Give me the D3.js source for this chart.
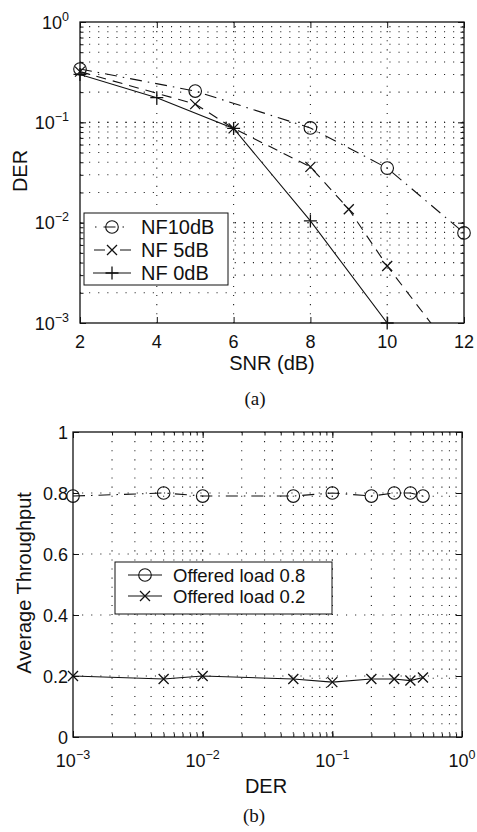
<!DOCTYPE html>
<html><head><meta charset="utf-8">
<script src="https://cdn.jsdelivr.net/npm/d3@7"></script>
<style>
html,body{margin:0;padding:0;background:#fff;}
svg text{font-family:"Liberation Sans",Arial,Helvetica,sans-serif;fill:#111;}
</style></head><body>
<svg id="c" width="477" height="832"></svg>
<script>
// ---- Panel (a) data ----
const snrTicks = [2, 4, 6, 8, 10, 12];
const derTicksTop = [1e-3, 1e-2, 1e-1, 1];
const snrNF10 = [2, 5, 8, 10, 12];
const derNF10 = [0.34, 0.205, 0.088, 0.035, 0.0079];
const snrNF5 = [2, 5, 6, 8, 9, 10, 12];
const derNF5 = [0.32, 0.152, 0.087, 0.036, 0.0136, 0.0037, 0.00037];
const snrNF0 = [2, 4, 6, 8, 10];
const derNF0 = [0.30, 0.176, 0.087, 0.0104, 0.001];
const legendTop = ["NF10dB", "NF 5dB", "NF 0dB"];
// ---- Panel (b) data ----
const derB = [0.001, 0.005, 0.01, 0.05, 0.1, 0.2, 0.3, 0.4, 0.5];
const tp08 = [0.79, 0.80, 0.79, 0.79, 0.80, 0.79, 0.80, 0.80, 0.79];
const tp02 = [0.20, 0.19, 0.20, 0.19, 0.18, 0.19, 0.19, 0.185, 0.195];
const tpTicks = [0, 0.2, 0.4, 0.6, 0.8, 1];
const derTicksB = [1e-3, 1e-2, 1e-1, 1];
const legendBot = ["Offered load 0.8", "Offered load 0.2"];

const svg = d3.select("#c");
const INK = "#111";
const DASHDOT = "12,6,1.5,6";
const DASHED = "10,7";

function minorLog(lo, hi) {
  const out = [];
  for (let e = Math.round(Math.log10(lo)); e < Math.round(Math.log10(hi)); e++)
    for (let k = 1; k < 10; k++) { const v = +(k * Math.pow(10, e)).toPrecision(6); if (v > lo * 1.0001 && v < hi * 0.9999) out.push(v); }
  return out;
}
function expStr(v) { const e = Math.round(Math.log10(v)); return e === 0 ? "0" : "\u2212" + (-e); }
function supLabel(g, x0, y0, v, anchor) {
  const t = g.append("text").attr("x", x0).attr("y", y0).attr("text-anchor", anchor).attr("font-size", 18);
  t.append("tspan").text("10");
  t.append("tspan").attr("dy", -8).attr("font-size", 12.5).text(expStr(v));
}
function gridStyle(sel) {
  sel.attr("stroke", "#222").attr("stroke-width", 1.1).attr("stroke-dasharray", "1.1,8").attr("fill", "none");
}
function drawMarker(g, type, cx, cy) {
  if (type === "o") {
    g.append("circle").attr("cx", cx).attr("cy", cy).attr("r", 6.3).attr("fill", "none").attr("stroke", INK).attr("stroke-width", 1.1);
  } else if (type === "x") {
    const s = 5;
    g.append("path").attr("d", `M${cx - s},${cy - s}L${cx + s},${cy + s}M${cx - s},${cy + s}L${cx + s},${cy - s}`).attr("stroke", INK).attr("stroke-width", 1.3);
  } else {
    const s = 6.5;
    g.append("path").attr("d", `M${cx - s},${cy}L${cx + s},${cy}M${cx},${cy - s}L${cx},${cy + s}`).attr("stroke", INK).attr("stroke-width", 1.3);
  }
}
function ticksAll(g, P, xs, ys, xVals, yVals, xMinor, yMinor) {
  const clean = s => s.call(a => a.select(".domain").remove()).selectAll("line").attr("stroke", INK).attr("stroke-width", 1);
  g.append("g").attr("transform", `translate(0,${P.b})`).call(d3.axisBottom(xs).tickValues(xVals).tickSize(-6).tickFormat("")).call(clean);
  g.append("g").attr("transform", `translate(0,${P.t})`).call(d3.axisTop(xs).tickValues(xVals).tickSize(-6).tickFormat("")).call(clean);
  g.append("g").attr("transform", `translate(${P.l},0)`).call(d3.axisLeft(ys).tickValues(yVals).tickSize(-6).tickFormat("")).call(clean);
  g.append("g").attr("transform", `translate(${P.r},0)`).call(d3.axisRight(ys).tickValues(yVals).tickSize(-6).tickFormat("")).call(clean);
  if (xMinor) {
    g.append("g").attr("transform", `translate(0,${P.b})`).call(d3.axisBottom(xs).tickValues(xMinor).tickSize(-3.5).tickFormat("")).call(clean);
    g.append("g").attr("transform", `translate(0,${P.t})`).call(d3.axisTop(xs).tickValues(xMinor).tickSize(-3.5).tickFormat("")).call(clean);
  }
  if (yMinor) {
    g.append("g").attr("transform", `translate(${P.l},0)`).call(d3.axisLeft(ys).tickValues(yMinor).tickSize(-3.5).tickFormat("")).call(clean);
    g.append("g").attr("transform", `translate(${P.r},0)`).call(d3.axisRight(ys).tickValues(yMinor).tickSize(-3.5).tickFormat("")).call(clean);
  }
  g.append("rect").attr("x", P.l).attr("y", P.t).attr("width", P.r - P.l).attr("height", P.b - P.t)
    .attr("fill", "none").attr("stroke", INK).attr("stroke-width", 1.3);
}
const defs = svg.append("defs");

// ================= Panel (a) =================
{
  const P = { l: 80, r: 464, t: 22, b: 323 };
  const x = d3.scaleLinear().domain([2, 12]).range([P.l, P.r]);
  const y = d3.scaleLog().domain([1e-3, 1]).range([P.b, P.t]);
  const g = svg.append("g");
  defs.append("clipPath").attr("id", "clipA").append("rect").attr("x", P.l).attr("y", P.t).attr("width", P.r - P.l).attr("height", P.b - P.t);

  const yMinor = minorLog(1e-3, 1);
  const yGrid = yMinor.concat(derTicksTop.filter(v => v > 1e-3 && v < 1));
  g.append("g").selectAll("line").data(yGrid).join("line")
    .attr("x1", P.l).attr("x2", P.r).attr("y1", d => y(d)).attr("y2", d => y(d)).call(gridStyle);
  g.append("g").selectAll("line").data(snrTicks.slice(1, -1)).join("line")
    .attr("y1", P.t).attr("y2", P.b).attr("x1", d => x(d)).attr("x2", d => x(d)).call(gridStyle);

  const line = d3.line().x(d => x(d[0])).y(d => y(d[1]));
  const series = [
    { xs: snrNF10, ys: derNF10, dash: DASHDOT, m: "o" },
    { xs: snrNF5, ys: derNF5, dash: DASHED, m: "x" },
    { xs: snrNF0, ys: derNF0, dash: null, m: "+" }
  ];
  const lg = g.append("g").attr("clip-path", "url(#clipA)");
  series.forEach(s => {
    const pts = s.xs.map((v, i) => [v, s.ys[i]]);
    lg.append("path").attr("d", line(pts)).attr("fill", "none").attr("stroke", INK).attr("stroke-width", 1.1)
      .attr("stroke-dasharray", s.dash);
  });
  series.forEach(s => {
    s.xs.forEach((v, i) => { if (s.ys[i] >= 1e-3) drawMarker(g, s.m, x(v), y(s.ys[i])); });
  });

  ticksAll(g, P, x, y, snrTicks, derTicksTop, null, yMinor);

  snrTicks.forEach(v => g.append("text").attr("x", x(v)).attr("y", 348).attr("text-anchor", "middle").attr("font-size", 18).text(v));
  derTicksTop.forEach(v => supLabel(g, 69, y(v) + 6.5, v, "end"));

  g.append("text").attr("transform", "translate(27,171) rotate(-90)").attr("text-anchor", "middle").attr("font-size", 20).text("DER");
  g.append("text").attr("x", 272).attr("y", 370).attr("text-anchor", "middle").attr("font-size", 20).text("SNR (dB)");
  g.append("text").attr("x", 255).attr("y", 405).attr("text-anchor", "middle").attr("font-size", 19)
    .style("font-family", "'Liberation Serif','Times New Roman',serif").text("(a)");

  // legend
  const L = g.append("g");
  L.append("rect").attr("x", 84).attr("y", 213).attr("width", 144).attr("height", 72).attr("fill", "#fff").attr("stroke", INK).attr("stroke-width", 1);
  const rowsY = [227, 250, 273];
  const samples = [
    { x1: 95, x2: 128, dash: "1.5,7,12,7" },
    { x1: 94, x2: 131, dash: "11,15" },
    { x1: 93, x2: 131, dash: null }
  ];
  legendTop.forEach((name, i) => {
    const cy = rowsY[i];
    L.append("line").attr("x1", samples[i].x1).attr("x2", samples[i].x2).attr("y1", cy).attr("y2", cy)
      .attr("stroke", INK).attr("stroke-width", 1.1).attr("stroke-dasharray", samples[i].dash);
    drawMarker(L, series[i].m, 112, cy);
    L.append("text").attr("x", 141).attr("y", cy + 7).attr("font-size", 20).text(name);
  });
}

// ================= Panel (b) =================
{
  const P = { l: 73, r: 462, t: 432, b: 737 };
  const x = d3.scaleLog().domain([1e-3, 1]).range([P.l, P.r]);
  const y = d3.scaleLinear().domain([0, 1]).range([P.b, P.t]);
  const g = svg.append("g");
  defs.append("clipPath").attr("id", "clipB").append("rect").attr("x", P.l).attr("y", P.t).attr("width", P.r - P.l).attr("height", P.b - P.t);

  const xMinor = minorLog(1e-3, 1);
  const xGrid = xMinor.concat(derTicksB.filter(v => v > 1e-3 && v < 1));
  g.append("g").selectAll("line").data(xGrid).join("line")
    .attr("y1", P.t).attr("y2", P.b).attr("x1", d => x(d)).attr("x2", d => x(d)).call(gridStyle);
  g.append("g").selectAll("line").data(tpTicks.slice(1, -1)).join("line")
    .attr("x1", P.l).attr("x2", P.r).attr("y1", d => y(d)).attr("y2", d => y(d)).call(gridStyle);

  const line = d3.line().x(d => x(d[0])).y(d => y(d[1]));
  const series = [
    { ys: tp08, dash: DASHDOT, m: "o" },
    { ys: tp02, dash: null, m: "x" }
  ];
  const lg = g.append("g").attr("clip-path", "url(#clipB)");
  series.forEach(s => {
    const pts = derB.map((v, i) => [v, s.ys[i]]);
    lg.append("path").attr("d", line(pts)).attr("fill", "none").attr("stroke", INK).attr("stroke-width", 1.1)
      .attr("stroke-dasharray", s.dash);
    derB.forEach((v, i) => drawMarker(g, s.m, x(v), y(s.ys[i])));
  });

  ticksAll(g, P, x, y, derTicksB, tpTicks, xMinor, null);

  derTicksB.forEach(v => supLabel(g, x(v), 767, v, "middle"));
  tpTicks.forEach(v => g.append("text").attr("x", 68).attr("y", y(v) + 6.5).attr("text-anchor", "end").attr("font-size", 18)
    .text(v === 0 || v === 1 ? d3.format("d")(v) : d3.format(".1f")(v)));

  g.append("text").attr("transform", "translate(31,583) rotate(-90)").attr("text-anchor", "middle").attr("font-size", 20).text("Average Throughput");
  g.append("text").attr("x", 266).attr("y", 793).attr("text-anchor", "middle").attr("font-size", 20).text("DER");
  g.append("text").attr("x", 254).attr("y", 822).attr("text-anchor", "middle").attr("font-size", 19)
    .style("font-family", "'Liberation Serif','Times New Roman',serif").text("(b)");

  const L = g.append("g");
  L.append("rect").attr("x", 115).attr("y", 562).attr("width", 217).attr("height", 52).attr("fill", "#fff").attr("stroke", INK).attr("stroke-width", 1);
  const rowsY = [575, 596];
  legendBot.forEach((name, i) => {
    const cy = rowsY[i];
    L.append("line").attr("x1", 128).attr("x2", 162).attr("y1", cy).attr("y2", cy).attr("stroke", INK).attr("stroke-width", 1.1);
    drawMarker(L, series[i].m, 145, cy);
    L.append("text").attr("x", 173).attr("y", cy + 6.5).attr("font-size", 18.5).text(name);
  });
}
</script>
</body></html>
